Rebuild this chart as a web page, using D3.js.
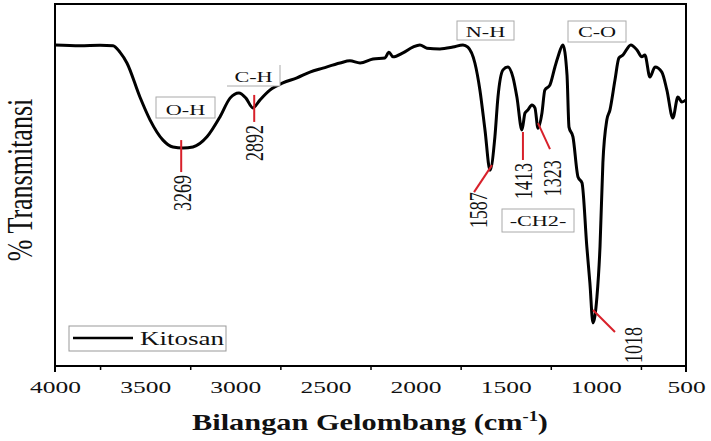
<!DOCTYPE html>
<html lang="id">
<head>
    <meta charset="UTF-8">
    <title>FTIR Kitosan</title>
    <script src="https://d3js.org/d3.v7.min.js"></script>
    <style>
        body { margin: 0; background: #fff; }
        text { font-family: "Liberation Serif", "Times New Roman", serif; fill: #111; }
        .curve { fill: none; stroke: #000; stroke-width: 3; stroke-linejoin: round; }
        .mark { stroke: #d8202a; stroke-width: 2; }
        .tag { fill: #fff; stroke: #aaa; stroke-width: 1; }
    </style>
</head>
<body>
<svg width="711" height="441"></svg>
<script>
    // wavenumber (cm-1) and transmittance (arbitrary %)
    const wavenumber = [4000, 3861, 3750, 3678, 3640, 3601, 3529, 3473, 3401, 3346, 3290, 3235, 3157, 3085, 3029,
        2980, 2941, 2902, 2863, 2808, 2736, 2658, 2586, 2514, 2419, 2364, 2308, 2236, 2170, 2148, 2125, 2070,
        2015, 1976, 1937, 1865, 1793, 1737, 1710, 1671, 1643, 1615, 1587, 1560, 1543, 1515, 1488, 1460, 1438,
        1410, 1393, 1377, 1355, 1338, 1321, 1299, 1283, 1255, 1227, 1210, 1183, 1160, 1149, 1127, 1099, 1077,
        1050, 1033, 1016, 994, 977, 961, 939, 922, 894, 872, 850, 806, 772, 745, 728, 700, 672, 634, 606, 573,
        545, 523, 500];
    const transmit = [88.7, 88.5, 88.6, 88.5, 86.7, 83.7, 74.3, 68.0, 62.4, 60.5, 60.2, 60.5, 63.3, 68.8, 74.0,
        75.4, 74.0, 71.3, 73.5, 76.2, 78.2, 79.6, 81.2, 82.3, 83.7, 84.3, 83.7, 84.8, 85.1, 86.7, 85.4, 86.5,
        88.1, 88.7, 87.8, 87.6, 88.1, 88.7, 88.1, 83.7, 76.2, 65.2, 54.1, 63.3, 74.3, 81.8, 82.6, 79.8, 74.3,
        65.2, 69.9, 70.7, 72.1, 71.3, 65.7, 69.9, 76.2, 77.6, 82.6, 85.4, 88.7, 80.4, 66.0, 63.3, 52.2, 50.6,
        32.9, 22.9, 11.9, 19.1, 32.9, 56.1, 68.0, 70.7, 79.0, 85.1, 85.9, 88.7, 87.3, 85.4, 85.9, 79.8, 82.6,
        81.2, 76.2, 68.5, 74.3, 72.9, 73.5];

    const xMajor = [4000, 3500, 3000, 2500, 2000, 1500, 1000, 500];
    const xMinor = [3750, 3250, 2750, 2250, 1750, 1250, 750];

    const peakLabels = ["3269", "2892", "1587", "1413", "1323", "1018"];
    const peakWn = [3300, 2895, 1587, 1410, 1321, 1016];
    const groupLabels = ["O-H", "C-H", "N-H", "C-O", "-CH2-"];
    const seriesName = "Kitosan";

    const data = wavenumber.map((w, i) => ({ w, t: transmit[i] }));

    const margin = { top: 4, right: 25, bottom: 75, left: 55 };
    const width = 711 - margin.left - margin.right;
    const height = 441 - margin.top - margin.bottom;
    const SX = 1.42; // the text in the figure is stretched sideways

    const svg = d3.select("svg");
    const g = svg.append("g").attr("transform", `translate(${margin.left},${margin.top})`);

    const x = d3.scaleLinear().domain([4000, 500]).range([0, width]);
    const y = d3.scaleLinear().domain([0, 100]).range([height, 0]);

    // frame
    g.append("rect").attr("width", width).attr("height", height)
        .attr("fill", "none").attr("stroke", "#000").attr("stroke-width", 2);

    // x axis: labels, minor ticks, end ticks
    const ax = g.append("g").attr("transform", `translate(0,${height})`)
        .call(d3.axisBottom(x).tickValues(xMajor).tickSize(0).tickPadding(15).tickFormat(d3.format("d")));
    ax.select(".domain").remove();
    ax.selectAll("text").attr("font-size", 17).attr("fill", "#111")
        .style("font-family", "'Liberation Serif', serif")
        .attr("transform", "scale(1.5,1)");

    const mn = g.append("g").attr("transform", `translate(0,${height})`)
        .call(d3.axisBottom(x).tickValues(xMinor).tickSize(4).tickFormat(""));
    mn.select(".domain").remove();
    mn.selectAll("line").attr("stroke", "#000").attr("stroke-width", 1.5);
    g.append("g").attr("transform", `translate(0,${height})`)
        .selectAll("line").data([4000, 500]).join("line")
        .attr("x1", d => x(d)).attr("x2", d => x(d)).attr("y1", 0).attr("y2", 6)
        .attr("stroke", "#000").attr("stroke-width", 2);

    // axis titles
    svg.append("text")
        .attr("transform", `translate(370,430) scale(1.32,1)`)
        .attr("text-anchor", "middle").attr("font-size", 23).attr("font-weight", "bold")
        .text("Bilangan Gelombang (cm")
        .append("tspan").attr("font-size", 14).attr("dy", -9).text("-1")
        .select(function () { return this.parentNode; })
        .append("tspan").attr("dy", 9).text(")");

    svg.append("text")
        .attr("transform", `translate(20,180) scale(1.35,1) rotate(-90)`)
        .attr("text-anchor", "middle").attr("dominant-baseline", "central")
        .attr("font-size", 26).text("% Transmitansi");

    // spectrum
    const line = d3.line().x(d => x(d.w)).y(d => y(d.t)).curve(d3.curveMonotoneX);
    g.append("path").datum(data).attr("class", "curve").attr("d", line);

    // peak markers: leader offsets and label anchor relative to the peak point
    const leader = [
        [0, -8, 0, 24, 1, 27],
        [0, -5, 0, 22, 0, 25],
        [2, -5, -16, 22, -12, 22],
        [1, 2, 1, 30, 1, 33],
        [0, -5, 12, 21, 14, 32],
        [0, -13, 22, 9, 40, 4]
    ];
    const tAt = w => {
        const i = wavenumber.findIndex(v => v <= w);
        return transmit[Math.max(0, i)];
    };
    peakLabels.forEach((lab, i) => {
        const px = x(peakWn[i]), py = y(tAt(peakWn[i]));
        const o = leader[i];
        g.append("line").attr("class", "mark")
            .attr("x1", px + o[0]).attr("y1", py + o[1])
            .attr("x2", px + o[2]).attr("y2", py + o[3]);
        g.append("text")
            .attr("transform", `translate(${px + o[4]},${py + o[5]}) scale(1.4,1) rotate(-90)`)
            .attr("text-anchor", "end").attr("dominant-baseline", "central")
            .attr("font-size", 18).text(lab);
    });

    // functional group tags (box in page pixels)
    const tagBox = [
        [156, 97, 59, 21, 115],
        [227, 65, 53, 21, 82],
        [457, 21, 57, 19, 37],
        [568, 21, 58, 21, 37],
        [502, 209, 72, 23, 226]
    ];
    groupLabels.forEach((lab, i) => {
        const b = tagBox[i];
        if (lab === "C-H") {
            svg.append("path").attr("class", "tag").attr("fill", "none")
                .attr("d", `M${b[0]},${b[1] + b[3]}H${b[0] + b[2]}V${b[1]}`);
        } else {
            svg.append("rect").attr("class", "tag")
                .attr("x", b[0]).attr("y", b[1]).attr("width", b[2]).attr("height", b[3]);
        }
        svg.append("text")
            .attr("transform", `translate(${b[0] + b[2] / 2},${b[4]}) scale(1.48,1)`)
            .attr("text-anchor", "middle").attr("font-size", 15).text(lab);
    });

    // legend
    const lg = svg.append("g").attr("transform", "translate(69,326)");
    lg.append("rect").attr("width", 157).attr("height", 25)
        .attr("fill", "#fff").attr("stroke", "#999").attr("stroke-width", 1);
    lg.append("line").attr("x1", 4).attr("x2", 64).attr("y1", 12).attr("y2", 12)
        .attr("stroke", "#000").attr("stroke-width", 2.5);
    lg.append("text").attr("transform", `translate(71,19) scale(${SX},1)`)
        .attr("font-size", 19).text(seriesName);
</script>
</body>
</html>
